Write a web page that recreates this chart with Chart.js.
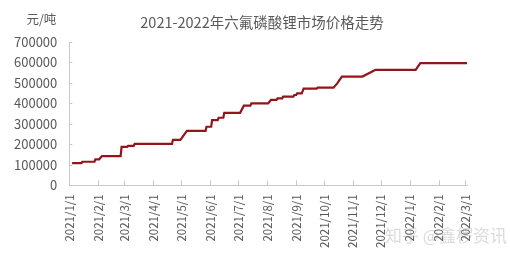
<!DOCTYPE html>
<html>
<head>
<meta charset="utf-8">
<script src="https://cdn.jsdelivr.net/npm/chart.js@4.4.0/dist/chart.umd.min.js"></script>
<style>
  html, body { margin: 0; padding: 0; background: #fff; }
  #wrap { width: 510px; height: 258px; position: relative; }
</style>
</head>
<body>
<div id="wrap"><canvas id="priceChart"></canvas></div>
<script>
// 六氟磷酸锂 price, change points
var dates = [
  "2021/1/4", "2021/1/14", "2021/1/15", "2021/1/28", "2021/1/29", "2021/2/2", "2021/2/5",
  "2021/2/25", "2021/2/26", "2021/3/4", "2021/3/5", "2021/3/11", "2021/3/12",
  "2021/4/21", "2021/4/22", "2021/4/30", "2021/5/7", "2021/5/27", "2021/5/28",
  "2021/6/2", "2021/6/3", "2021/6/9", "2021/6/10", "2021/6/15", "2021/6/16",
  "2021/7/3", "2021/7/7", "2021/7/14", "2021/7/15", "2021/8/2", "2021/8/5",
  "2021/8/11", "2021/8/12", "2021/8/17", "2021/8/18", "2021/8/29", "2021/8/30",
  "2021/9/1", "2021/9/2", "2021/9/7", "2021/9/9", "2021/9/23", "2021/9/24",
  "2021/10/11", "2021/10/15", "2021/10/20", "2021/11/11", "2021/11/20", "2021/11/25",
  "2022/1/7", "2022/1/12", "2022/3/3"
];
var prices = [
  108000, 108000, 115000, 115000, 127000, 127000, 143000,
  143000, 188000, 188000, 193000, 193000, 202000,
  202000, 222000, 222000, 266000, 266000, 286000,
  286000, 318000, 318000, 330000, 330000, 354000,
  354000, 389000, 389000, 400000, 400000, 417000,
  417000, 425000, 425000, 433000, 433000, 441000,
  441000, 449000, 449000, 472000, 472000, 477000,
  477000, 498000, 531000, 531000, 552000, 564000,
  564000, 597000, 597000
];
var tickDates = [
  "2021/1/1", "2021/2/1", "2021/3/1", "2021/4/1", "2021/5/1", "2021/6/1", "2021/7/1",
  "2021/8/1", "2021/9/1", "2021/10/1", "2021/11/1", "2021/12/1",
  "2022/1/1", "2022/2/1", "2022/3/1"
];
var yMin = 0, yMax = 700000, yStep = 100000;

var startDay = Date.UTC(2021, 0, 1);
function dayNum(s) {
  var p = s.split('/');
  return Math.round((Date.UTC(+p[0], +p[1] - 1, +p[2]) - startDay) / 86400000);
}
var tickDays = tickDates.map(dayNum);
var points = dates.map(function(d, i) { return { x: dayNum(d), y: prices[i] }; });

var axisColor = '#c8c8c8';
var textColor = '#595959';
var cjkFont = '"Noto Sans CJK SC", "Noto Sans", sans-serif';

// title, unit label, small inside tick marks, watermark
var extras = {
  id: 'extras',
  afterDraw: function(chart) {
    var ctx = chart.ctx, xs = chart.scales.x, ys = chart.scales.y;
    var area = chart.chartArea;
    ctx.save();
    ctx.strokeStyle = axisColor;
    ctx.lineWidth = 1;
    ctx.beginPath();
    xs.ticks.forEach(function(t) {
      var px = Math.round(xs.getPixelForValue(t.value)) + 0.5;
      ctx.moveTo(px, area.bottom);
      ctx.lineTo(px, area.bottom - 5);
    });
    ys.ticks.forEach(function(t) {
      var py = Math.round(ys.getPixelForValue(t.value)) + 0.5;
      ctx.moveTo(area.left, py);
      ctx.lineTo(area.left + 3, py);
    });
    ctx.stroke();
    ctx.fillStyle = textColor;
    ctx.textBaseline = 'middle';
    ctx.textAlign = 'center';
    ctx.font = '14.5px ' + cjkFont;
    ctx.fillText('2021-2022年六氟磷酸锂市场价格走势', 262, 22);
    ctx.font = '12.5px ' + cjkFont;
    ctx.textAlign = 'right';
    ctx.fillText('元/吨', area.left - 13, 19);
    ctx.fillStyle = 'rgba(150,150,150,0.35)';
    ctx.font = '17px ' + cjkFont;
    ctx.textAlign = 'left';
    ctx.fillText('知乎 @鑫椤资讯', 385, 236);
    ctx.restore();
  }
};

new Chart(document.getElementById('priceChart'), {
  type: 'line',
  data: {
    datasets: [{
      data: points,
      borderColor: '#921519',
      borderWidth: 2.2,
      pointRadius: 0,
      tension: 0,
      fill: false
    }]
  },
  options: {
    responsive: true,
    maintainAspectRatio: false,
    animation: false,
    layout: { padding: { left: 2, right: 43, top: 42, bottom: 1 } },
    plugins: {
      legend: { display: false },
      tooltip: { enabled: false },
      title: { display: false }
    },
    scales: {
      x: {
        type: 'linear',
        min: 0,
        max: points[points.length - 1].x,
        afterBuildTicks: function(scale) {
          scale.ticks = tickDays.map(function(d) { return { value: d }; });
        },
        grid: { display: false, drawTicks: false },
        border: { color: axisColor },
        ticks: {
          autoSkip: false,
          minRotation: 90,
          maxRotation: 90,
          padding: 9,
          color: textColor,
          font: { family: cjkFont, size: 11.5 },
          callback: function(v) {
            var i = tickDays.indexOf(v);
            return i >= 0 ? tickDates[i] : '';
          }
        }
      },
      y: {
        min: yMin,
        max: yMax,
        grid: { display: false, drawTicks: false },
        border: { color: axisColor },
        ticks: {
          stepSize: yStep,
          padding: 12,
          color: textColor,
          font: { family: cjkFont, size: 13 },
          callback: function(v) { return String(v); }
        }
      }
    }
  },
  plugins: [extras]
});
</script>
</body>
</html>
